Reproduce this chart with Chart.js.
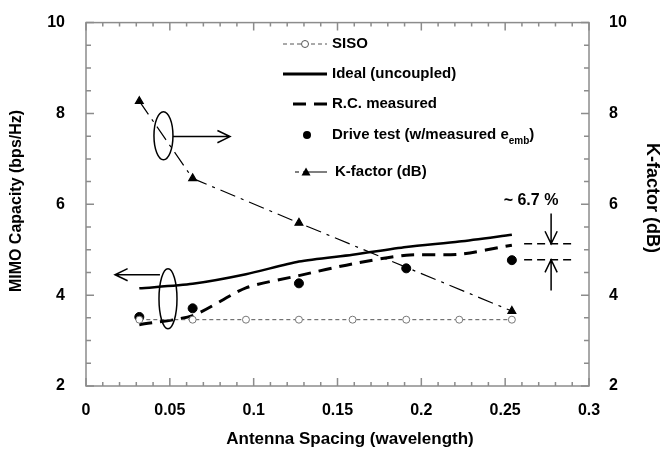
<!DOCTYPE html>
<html lang="en">
<head>
<meta charset="utf-8">
<title>MIMO capacity vs antenna spacing</title>
<script src="https://cdn.jsdelivr.net/npm/chart.js"></script>
<style>
body { margin: 0; background: #fff; }
</style>
</head>
<body>
<canvas id="myChart" width="662" height="449"></canvas>
<script>
// data
const spacing = [0.0318, 0.0636, 0.0954, 0.127, 0.159, 0.191, 0.2226, 0.254];
const siso = [3.46, 3.46, 3.46, 3.46, 3.46, 3.46, 3.46, 3.46];
const ideal = [4.15, 4.25, 4.46, 4.74, 4.89, 5.06, 5.18, 5.33];
const rcMeasured = [3.35, 3.55, 4.16, 4.43, 4.69, 4.88, 4.9, 5.1];
const driveX = [0.0318, 0.0636, 0.127, 0.191, 0.254];
const driveTest = [3.52, 3.71, 4.26, 4.59, 4.77];
const kX = [0.0318, 0.0636, 0.127, 0.254];
const kFactor = [8.27, 6.57, 5.59, 3.65];
const legendLabels = ['SISO', 'Ideal (uncoupled)', 'R.C. measured', 'Drive test (w/measured e', 'K-factor (dB)'];

const FONT = "'Liberation Sans', Arial, sans-serif";
const GREY = '#8c8c8c';

function pts(xs, ys) {
    return xs.map((v, i) => ({x: v, y: ys[i]}));
}

function arrow(ctx, x1, y1, x2, y2) {
    ctx.beginPath();
    ctx.moveTo(x1, y1);
    ctx.lineTo(x2, y2);
    const a = Math.atan2(y2 - y1, x2 - x1);
    const h = 14;
    ctx.moveTo(x2 - h * Math.cos(a - 0.45), y2 - h * Math.sin(a - 0.45));
    ctx.lineTo(x2, y2);
    ctx.lineTo(x2 - h * Math.cos(a + 0.45), y2 - h * Math.sin(a + 0.45));
    ctx.stroke();
}

// ticks pointing inward, frame, titles, legend and the notes
const decor = {
    id: 'decor',
    afterDraw(chart) {
        const ctx = chart.ctx;
        const a = chart.chartArea;
        const x = chart.scales.x, y = chart.scales.y, y2 = chart.scales.y2;
        ctx.save();

        ctx.strokeStyle = GREY;
        ctx.lineWidth = 1.5;
        ctx.strokeRect(a.left, a.top, a.right - a.left, a.bottom - a.top);
        ctx.beginPath();
        for (let i = 0; i <= 30; i++) {
            const px = x.getPixelForValue(i / 100);
            const len = i % 5 == 0 ? 8 : 4;
            ctx.moveTo(px, a.bottom); ctx.lineTo(px, a.bottom - len);
            ctx.moveTo(px, a.top); ctx.lineTo(px, a.top + len);
        }
        for (let i = 0; i <= 16; i++) {
            const py = y.getPixelForValue(2 + i / 2);
            const len = i % 4 == 0 ? 8 : 5;
            ctx.moveTo(a.left, py); ctx.lineTo(a.left + len, py);
            ctx.moveTo(a.right, py); ctx.lineTo(a.right - len, py);
        }
        ctx.stroke();

        // axis titles
        ctx.fillStyle = '#000';
        ctx.textAlign = 'center';
        ctx.textBaseline = 'middle';
        ctx.font = 'bold 17px ' + FONT;
        ctx.fillText('Antenna Spacing (wavelength)', 350, 439);
        ctx.save();
        ctx.translate(17, 201);
        ctx.rotate(-Math.PI / 2);
        ctx.font = 'bold 16px ' + FONT;
        ctx.fillText('MIMO Capacity (bps/Hz)', 0, 0);
        ctx.restore();
        ctx.save();
        ctx.translate(652, 198);
        ctx.rotate(Math.PI / 2);
        ctx.font = 'bold 18px ' + FONT;
        ctx.fillText('K-factor (dB)', 0, 0);
        ctx.restore();

        // legend
        const rows = [44, 74, 104, 135, 172];
        ctx.strokeStyle = '#000';
        ctx.lineCap = 'butt';
        // SISO
        ctx.strokeStyle = '#555';
        ctx.lineWidth = 1;
        ctx.setLineDash([4, 3]);
        ctx.beginPath(); ctx.moveTo(283, rows[0]); ctx.lineTo(327, rows[0]); ctx.stroke();
        ctx.setLineDash([]);
        ctx.fillStyle = '#fff';
        ctx.beginPath(); ctx.arc(305, rows[0], 3.5, 0, 2 * Math.PI); ctx.fill(); ctx.stroke();
        // Ideal
        ctx.strokeStyle = '#000';
        ctx.lineWidth = 3;
        ctx.beginPath(); ctx.moveTo(283, rows[1]); ctx.lineTo(327, rows[1]); ctx.stroke();
        // R.C.
        ctx.setLineDash([13, 8]);
        ctx.beginPath(); ctx.moveTo(293, rows[2]); ctx.lineTo(327, rows[2]); ctx.stroke();
        ctx.setLineDash([]);
        // drive
        ctx.fillStyle = '#000';
        ctx.beginPath(); ctx.arc(307, rows[3], 4, 0, 2 * Math.PI); ctx.fill();
        // K-factor
        ctx.lineWidth = 1.2;
        ctx.beginPath(); ctx.moveTo(295, rows[4]); ctx.lineTo(299, rows[4]); ctx.moveTo(303, rows[4]); ctx.lineTo(327, rows[4]); ctx.stroke();
        ctx.beginPath(); ctx.moveTo(306, rows[4] - 4.5); ctx.lineTo(310.5, rows[4] + 3.5); ctx.lineTo(301.5, rows[4] + 3.5); ctx.closePath(); ctx.fill();

        ctx.textAlign = 'left';
        ctx.font = 'bold 15px ' + FONT;
        for (let i = 0; i < legendLabels.length; i++) {
            const tx = i == 4 ? 335 : 332;
            ctx.fillText(legendLabels[i], tx, rows[i]);
        }
        const w = ctx.measureText(legendLabels[3]).width;
        ctx.font = 'bold 10px ' + FONT;
        ctx.fillText('emb', 332 + w, rows[3] + 6);
        const w2 = ctx.measureText('emb').width;
        ctx.font = 'bold 15px ' + FONT;
        ctx.fillText(')', 332 + w + w2, rows[3]);

        // ellipses with arrows
        ctx.lineWidth = 1.5;
        ctx.beginPath();
        ctx.ellipse(x.getPixelForValue(0.0462), y.getPixelForValue(7.51), 9.5, 24, 0, 0, 2 * Math.PI);
        ctx.stroke();
        arrow(ctx, x.getPixelForValue(0.0518), y.getPixelForValue(7.49), x.getPixelForValue(0.0859), y.getPixelForValue(7.49));
        ctx.beginPath();
        ctx.ellipse(x.getPixelForValue(0.0489), y.getPixelForValue(3.92), 9, 30, 0, 0, 2 * Math.PI);
        ctx.stroke();
        arrow(ctx, x.getPixelForValue(0.0441), y.getPixelForValue(4.45), x.getPixelForValue(0.0173), y.getPixelForValue(4.45));

        // ~6.7 % note
        ctx.setLineDash([8, 5]);
        ctx.beginPath();
        for (const v of [5.13, 4.78]) {
            ctx.moveTo(x.getPixelForValue(0.2613), y.getPixelForValue(v));
            ctx.lineTo(x.getPixelForValue(0.2918), y.getPixelForValue(v));
        }
        ctx.stroke();
        ctx.setLineDash([]);
        const ax = x.getPixelForValue(0.2774);
        arrow(ctx, ax, y.getPixelForValue(5.8), ax, y.getPixelForValue(5.13));
        arrow(ctx, ax, y.getPixelForValue(4.1), ax, y.getPixelForValue(4.78));
        ctx.textAlign = 'center';
        ctx.font = 'bold 16px ' + FONT;
        ctx.fillText('~ 6.7 %', 531, 201);

        ctx.restore();
    }
};

const ctx = document.getElementById('myChart');

new Chart(ctx, {
    type: 'line',
    data: {
        datasets: [{
            label: 'SISO',
            data: pts(spacing, siso),
            borderColor: '#555',
            borderWidth: 1,
            borderDash: [4, 3],
            pointRadius: 3.5,
            pointBackgroundColor: '#fff',
            pointBorderColor: '#777',
            pointBorderWidth: 1,
            yAxisID: 'y'
        }, {
            label: 'Ideal (uncoupled)',
            data: pts(spacing, ideal),
            borderColor: '#000',
            borderWidth: 2.5,
            pointRadius: 0,
            tension: 0.25,
            yAxisID: 'y'
        }, {
            label: 'R.C. measured',
            data: pts(spacing, rcMeasured),
            borderColor: '#000',
            borderWidth: 3,
            borderDash: [13, 8],
            pointRadius: 0,
            tension: 0.25,
            yAxisID: 'y'
        }, {
            label: 'Drive test',
            data: pts(driveX, driveTest),
            showLine: false,
            pointRadius: 4.5,
            pointBackgroundColor: '#000',
            pointBorderColor: '#000',
            yAxisID: 'y'
        }, {
            label: 'K-factor (dB)',
            data: pts(kX, kFactor),
            borderColor: '#000',
            borderWidth: 1.2,
            borderDash: [16, 6, 3, 6],
            pointStyle: 'triangle',
            pointRadius: 4.5,
            pointBackgroundColor: '#000',
            pointBorderColor: '#000',
            yAxisID: 'y2'
        }]
    },
    options: {
        responsive: false,
        animation: false,
        layout: { padding: { top: 20, left: 0, right: 0, bottom: 0 } },
        plugins: { legend: { display: false }, tooltip: { enabled: false } },
        scales: {
            x: {
                type: 'linear',
                min: 0, max: 0.3,
                afterFit: s => { s.height = 63; },
                grid: { display: false },
                border: { display: false },
                ticks: {
                    stepSize: 0.05, padding: 7, color: '#000',
                    font: { family: FONT, size: 16, weight: 'bold' },
                    callback: v => String(+v.toFixed(2))
                }
            },
            y: {
                position: 'left',
                min: 2, max: 10,
                afterFit: s => { s.width = 86; },
                grid: { display: false },
                border: { display: false },
                ticks: { stepSize: 2, padding: 13, color: '#000', font: { family: FONT, size: 16, weight: 'bold' } }
            },
            y2: {
                position: 'right',
                min: 2, max: 10,
                afterFit: s => { s.width = 73; },
                grid: { display: false },
                border: { display: false },
                ticks: { stepSize: 2, padding: 12, color: '#000', font: { family: FONT, size: 16, weight: 'bold' } }
            }
        }
    },
    plugins: [decor]
});
</script>
</body>
</html>
